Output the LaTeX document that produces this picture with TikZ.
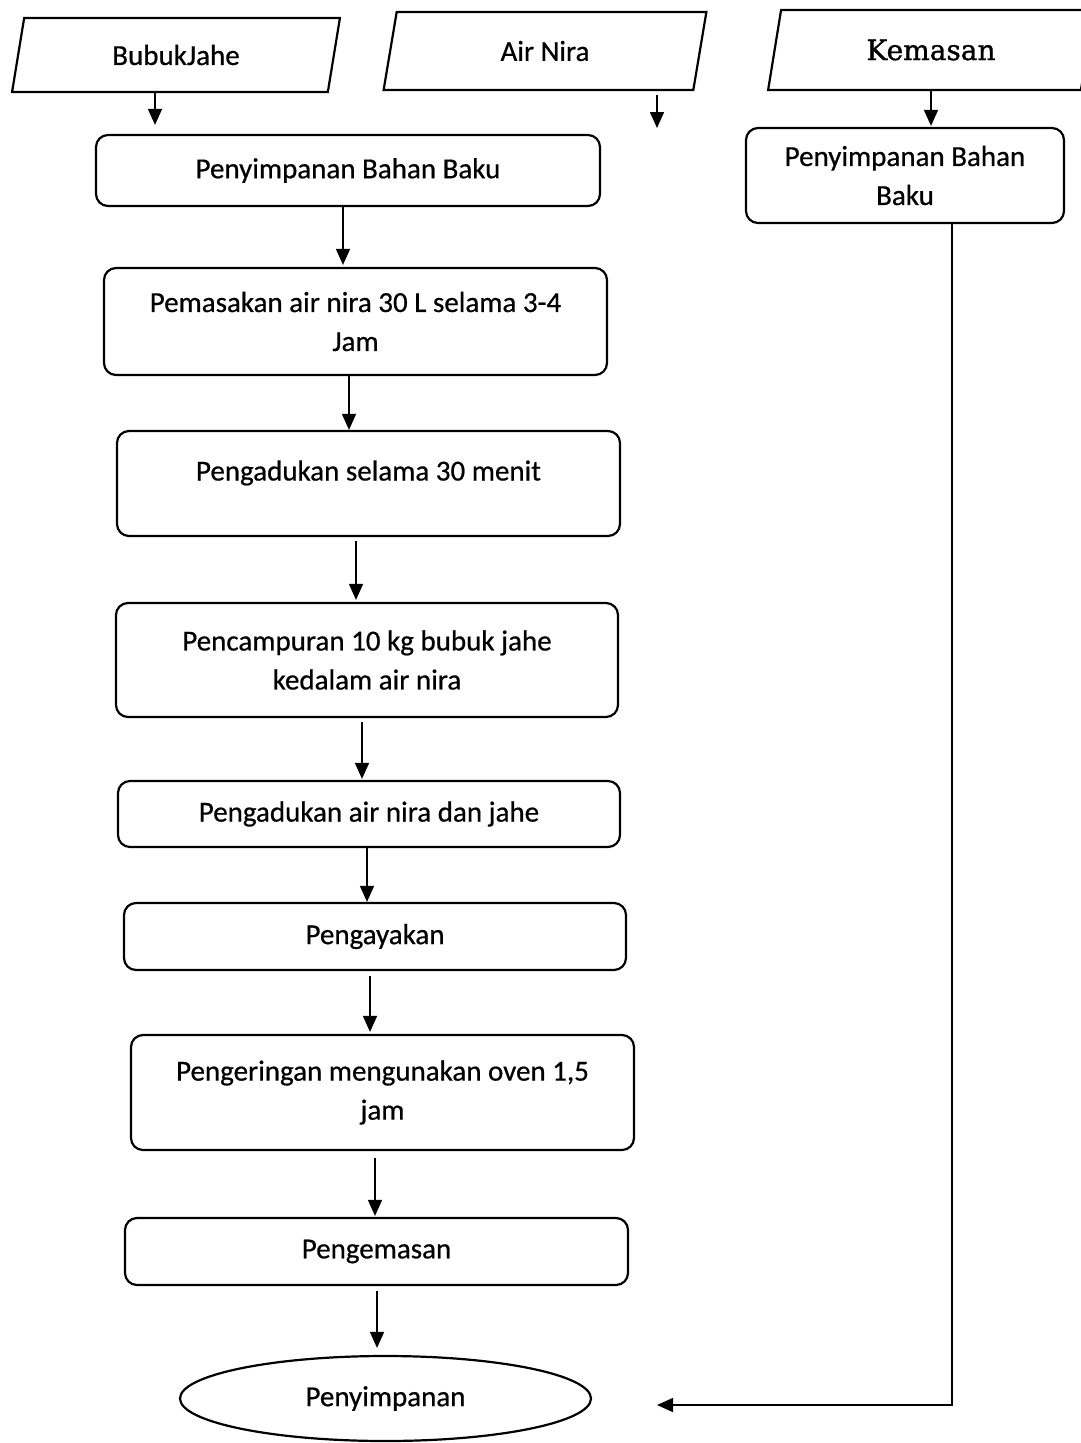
\documentclass[tikz,border=0pt]{standalone}
\usepackage{fontspec}
\setmainfont{Carlito}[FakeBold=0.6,AutoFakeBold=0.6]
\newfontfamily\serifk{DejaVu Serif}[FakeBold=1.2]
\usetikzlibrary{shapes.geometric,arrows.meta}
\begin{document}
\begin{tikzpicture}[x=1pt,y=-1pt,
  box/.style={draw, line width=2.2pt, rounded corners=12pt, align=center,
    font=\bfseries\fontsize{29}{39}\selectfont, inner sep=0pt},
  para/.style={draw, line width=2.2pt, trapezium, trapezium stretches=true,
    font=\bfseries\fontsize{29}{39}\selectfont, inner sep=0pt},
  arr/.style={line width=1.6pt, -{Triangle[length=16pt,width=14pt]}}]
\useasboundingbox (0,0) rectangle (1081,1443);

% inputs
\node[para, trapezium left angle=76, trapezium right angle=104,
  minimum width=328pt, minimum height=74pt] (bj) at (176,55) {BubukJahe};
\node[para, trapezium left angle=79, trapezium right angle=101,
  minimum width=324pt, minimum height=78pt] (an) at (545,51) {Air Nira};
\node[para, trapezium left angle=75, trapezium right angle=105,
  minimum width=326pt, minimum height=80pt, font=\serifk\mdseries\fontsize{28}{36}\selectfont] (km) at (931,50) {Kemasan};

% main column
\node[box, minimum width=504pt, minimum height=71pt] (b1) at (348,170.5) {Penyimpanan Bahan Baku};
\node[box, minimum width=503pt, minimum height=107pt] (b2) at (355.5,321.5) {Pemasakan air nira 30 L selama 3-4\\Jam};
\node[box, minimum width=503pt, minimum height=105pt, text height=22pt, text depth=28pt] (b3) at (368.5,483.5) {Pengadukan selama 30 menit};
\node[box, minimum width=502pt, minimum height=114pt] (b4) at (367,660) {Pencampuran 10 kg bubuk jahe\\kedalam air nira};
\node[box, minimum width=502pt, minimum height=66pt] (b5) at (369,814) {Pengadukan air nira dan jahe};
\node[box, minimum width=502pt, minimum height=67pt] (b6) at (375,936.5) {Pengayakan};
\node[box, minimum width=503pt, minimum height=115pt] (b7) at (382.5,1092.5) {Pengeringan mengunakan oven 1,5\\jam};
\node[box, minimum width=503pt, minimum height=67pt] (b8) at (376.5,1251.5) {Pengemasan};
\node[draw, line width=2.2pt, ellipse, minimum width=411pt, minimum height=85pt, inner sep=0pt,
  font=\bfseries\fontsize{29}{39}\selectfont] (ell) at (385.5,1398.5) {Penyimpanan};

% right column
\node[box, minimum width=318pt, minimum height=95pt] (rb) at (905,175.5) {Penyimpanan Bahan\\Baku};

\coordinate (anend) at (657,128);
\coordinate (corner) at (952,1405);
\coordinate (rend) at (657,1405);

% arrows
\draw[arr, shorten >=9pt] (bj.south -| 155,0) -- (b1.north -| 155,0);
\draw[arr] (an.south -| anend) ++(0,4) -- (anend);
\draw[arr, shorten >=1pt] (km.south -| 931,0) -- (rb.north -| 931,0);
\draw[arr, shorten >=2pt] (b1.south -| 343,0) -- (b2.north -| 343,0);
\draw[arr] (b2.south -| 349,0) -- (b3.north -| 349,0);
\draw[arr, shorten <=4pt, shorten >=2pt] (b3.south -| 356,0) -- (b4.north -| 356,0);
\draw[arr, shorten <=4pt, shorten >=1pt] (b4.south -| 362,0) -- (b5.north -| 362,0);
\draw[arr] (b5.south -| 367,0) -- (b6.north -| 367,0);
\draw[arr, shorten <=5pt, shorten >=2pt] (b6.south -| 370,0) -- (b7.north -| 370,0);
\draw[arr, shorten <=7pt, shorten >=1pt] (b7.south -| 375,0) -- (b8.north -| 375,0);
\draw[arr, shorten <=5pt, shorten >=7pt] (b8.south -| 377,0) -- (ell.north -| 377,0);
\draw[arr] (rb.south -| corner) -- (corner) -- (rend);
\end{tikzpicture}
\end{document}
